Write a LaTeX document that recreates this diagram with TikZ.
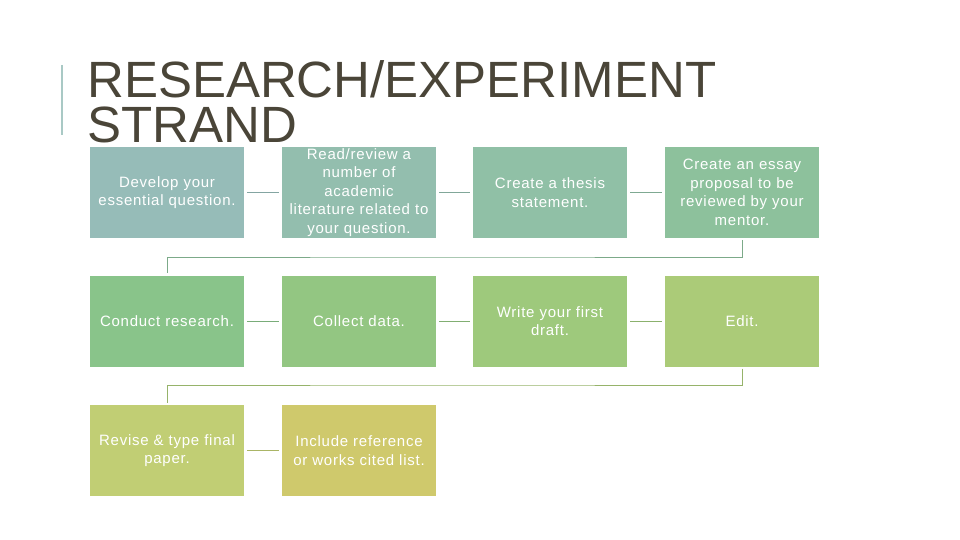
\documentclass[tikz,border=0pt]{standalone}
\usepackage{fontspec}
\setmainfont{Liberation Sans}
\newfontfamily\boxfont[LetterSpace=5]{Liberation Sans}
\usepackage{tikz}
\usetikzlibrary{positioning}

\definecolor{titlegray}{HTML}{4A4538}
\definecolor{accent}{HTML}{A9C9C5}
\definecolor{cA}{HTML}{96BCB8}
\definecolor{cB}{HTML}{93BEAE}
\definecolor{cC}{HTML}{90C0A6}
\definecolor{cD}{HTML}{8DC19C}
\definecolor{cE}{HTML}{89C48A}
\definecolor{cF}{HTML}{93C682}
\definecolor{cG}{HTML}{9EC97C}
\definecolor{cH}{HTML}{ABCB78}
\definecolor{cI}{HTML}{C1CE74}
\definecolor{cJ}{HTML}{CFC96C}

\tikzset{
    stepbox/.style={fill=#1, text=white, minimum width=154pt, minimum height=91pt,
        inner sep=0pt, text width=152pt, align=center,
        font=\boxfont\fontsize{15}{18.5}\selectfont},
    link/.style={draw=#1!88!black, line width=0.8pt, shorten <=3pt, shorten >=3pt}
}

\begin{document}
\begin{tikzpicture}[x=1pt, y=-1pt]
    \useasboundingbox (0,0) rectangle (960,540);

    % title
    \draw [accent, line width=2pt] (62,65) -- (62,135);
    \node [anchor=north west, inner sep=0pt, align=left, text=titlegray,
        font=\fontsize{51}{45}\selectfont] (title) at (87,60)
        {RESEARCH/EXPERIMENT\\STRAND};

    % first row
    \node [stepbox=cA] (b11) at (167,192.5) {Develop your\\essential question.};
    \node [stepbox=cB] (b12) at (359,192.5) {Read/review a\\number of\\academic\\literature related to\\your question.};
    \node [stepbox=cC] (b13) at (550,192.5) {Create a thesis\\statement.};
    \node [stepbox=cD] (b14) at (742,192.5) {Create an essay\\proposal to be\\reviewed by your\\mentor.};

    % second row
    \node [stepbox=cE] (b21) at (167,321) {Conduct research.};
    \node [stepbox=cF] (b22) at (359,321) {Collect data.};
    \node [stepbox=cG] (b23) at (550,321) {Write your first\\draft.};
    \node [stepbox=cH] (b24) at (742,321) {Edit.};

    % third row
    \node [stepbox=cI] (b31) at (167,450.5) {Revise \& type final\\paper.};
    \node [stepbox=cJ] (b32) at (359,450.5) {Include reference\\or works cited list.};

    \coordinate (turn1) at (450,257);
    \coordinate (turn2) at (450,385);

    \draw [link=cA] (b11) -- (b12);
    \draw [link=cB] (b12) -- (b13);
    \draw [link=cC] (b13) -- (b14);
    \draw [link=cD, shorten <=2pt, shorten >=2pt] (b14.south) |- (turn1) -| (b21.north);
    \draw [link=cE] (b21) -- (b22);
    \draw [link=cF] (b22) -- (b23);
    \draw [link=cG] (b23) -- (b24);
    \draw [link=cH, shorten <=2pt, shorten >=2pt] (b24.south) |- (turn2) -| (b31.north);
    \draw [link=cI] (b31) -- (b32);
\end{tikzpicture}
\end{document}
